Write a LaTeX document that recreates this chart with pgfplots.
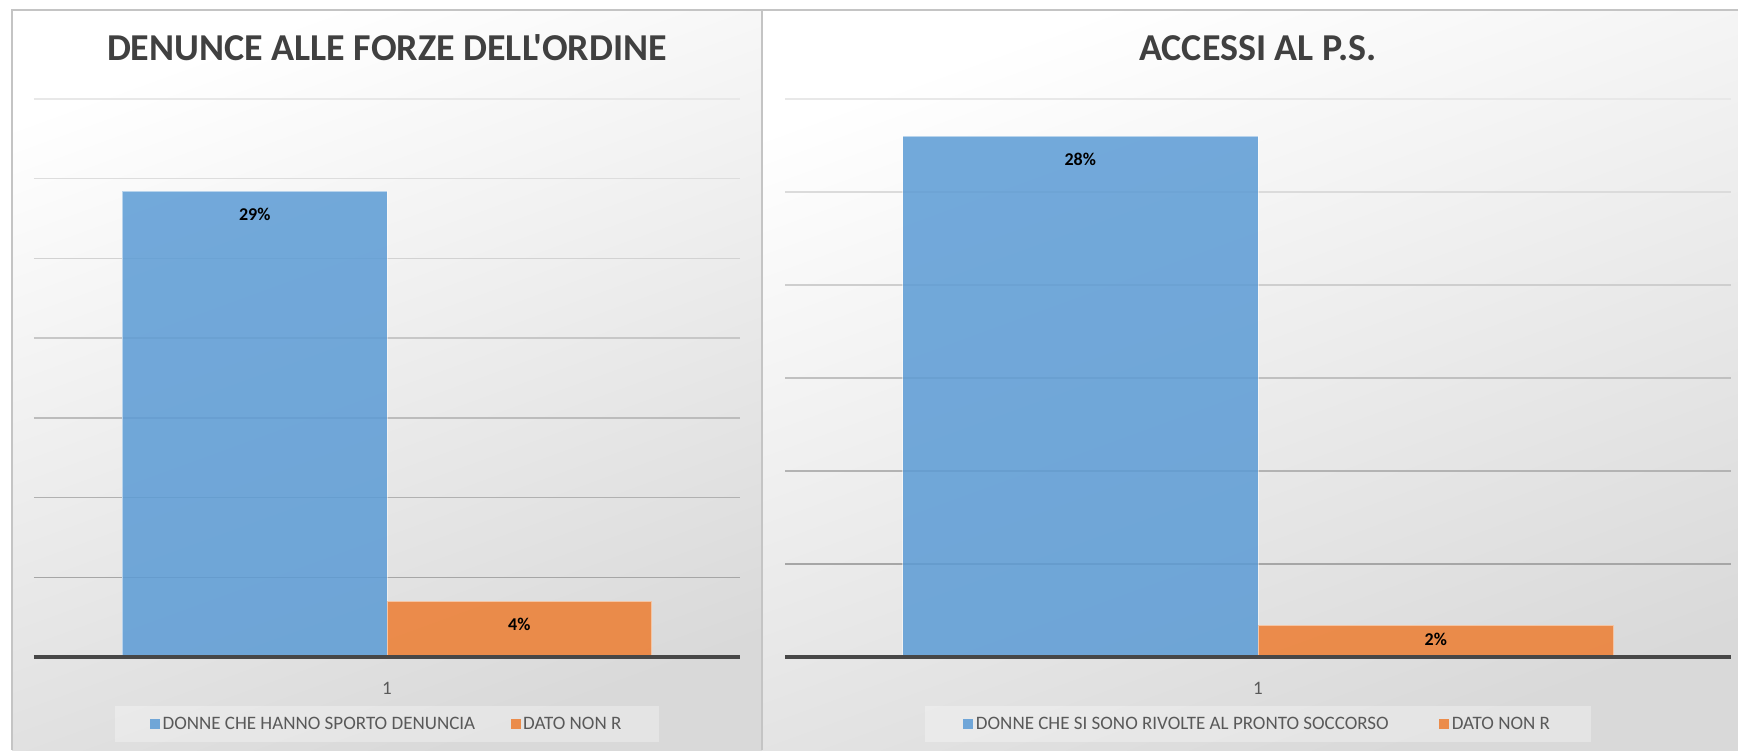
\documentclass[border=0pt]{standalone}
\usepackage{fontspec}
\setmainfont{Carlito}
\newfontfamily\cf{Carlito}
\usepackage{pgfplots}
\pgfplotsset{compat=1.18}
\definecolor{cblue}{HTML}{5B9BD5}
\definecolor{corange}{HTML}{ED7D31}
\definecolor{ctitle}{HTML}{404040}
\definecolor{ctext}{HTML}{595959}
\definecolor{cbg}{HTML}{D9D9D9}
\definecolor{cframe}{HTML}{C4C4C4}
\definecolor{caxis}{HTML}{474747}
\pgfplotsset{
  panel/.style={
    scale only axis, height=558pt, ymin=0, xmin=0.5, xmax=1.5,
    ybar=0pt, axis line style={draw=none}, tick style={draw=none},
    ytick=\empty, xtick={1}, xticklabels={1},
    xticklabel style={font=\cf\fontsize{19}{21}\selectfont, text=ctext, anchor=base, yshift=-33pt},
    clip=false,
    point meta=explicit symbolic,
    nodes near coords,
    every node near coord/.append style={anchor=center, font=\cf\bfseries\fontsize{18}{20}\selectfont, text=black, text opacity=1, yshift=-23pt},
    legend columns=2,
    legend image code/.code={\path[##1, draw=none, fill opacity=0.85] (0pt,-5pt) rectangle (10pt,5pt);},
    legend style={draw=none, fill=white, fill opacity=0.3, text opacity=1,
      font=\cf\fontsize{19}{21}\selectfont, text=ctext,
      nodes={inner sep=2.5pt},
      inner ysep=9pt,
      at={(0.5,-0.1201)}, anchor=center},
    title style={font=\cf\bfseries\fontsize{38}{45}\selectfont, text=ctitle, at={(0.5,1)}, anchor=base, yshift=32pt},
  },
  bblue/.style={fill=cblue, fill opacity=0.85, draw=white, draw opacity=0.5, line width=1pt},
  borange/.style={fill=corange, fill opacity=0.85, draw=white, draw opacity=0.5, line width=1pt},
}
\begin{document}
\begin{tikzpicture}[x=1pt,y=1pt]
\useasboundingbox (0,0) rectangle (1738,750);
\fill[white] (0,0) rectangle (1738,750);
\shade[top color=white, bottom color=cbg, shading angle=20] (12,0) rectangle (762,740);
\shade[top color=white, bottom color=cbg, shading angle=20] (762,0) rectangle (1738,740);
\draw[cframe, line width=1.5pt] (12,0) -- (12,740) -- (1738,740);
\draw[cframe, line width=1.5pt] (762,0) -- (762,740);

% Left panel
\begin{axis}[panel, at={(34pt,93pt)}, anchor=south west, width=706pt, ymax=35,
  bar width=264.6pt,
  title={DENUNCE ALLE FORZE DELL'ORDINE},
  legend style={inner xsep=35pt, /tikz/every even column/.append style={column sep=33pt}}]
\draw[line width=1.5pt, color=black!35] (axis cs:0.5,5) -- (axis cs:1.5,5);
\draw[line width=1.5pt, color=black!30.6] (axis cs:0.5,10) -- (axis cs:1.5,10);
\draw[line width=1.5pt, color=black!26.3] (axis cs:0.5,15) -- (axis cs:1.5,15);
\draw[line width=1.5pt, color=black!22] (axis cs:0.5,20) -- (axis cs:1.5,20);
\draw[line width=1.5pt, color=black!17.6] (axis cs:0.5,25) -- (axis cs:1.5,25);
\draw[line width=1.5pt, color=black!13.3] (axis cs:0.5,30) -- (axis cs:1.5,30);
\draw[line width=1.5pt, color=black!9] (axis cs:0.5,35) -- (axis cs:1.5,35);
\addplot[bblue] coordinates {(1,29.2) [29\%]};
\addplot[borange] coordinates {(1,3.5) [4\%]};
\legend{DONNE CHE HANNO SPORTO DENUNCIA, DATO NON R}
\draw[caxis, line width=3.5pt] (axis cs:0.5,0) -- (axis cs:1.5,0);
\end{axis}

% Right panel
\begin{axis}[panel, at={(785pt,93pt)}, anchor=south west, width=946pt, ymax=30,
  bar width=355.5pt,
  title={ACCESSI AL P.S.},
  legend style={inner xsep=38pt, /tikz/every even column/.append style={column sep=48pt}}]
\draw[line width=1.5pt, color=black!35] (axis cs:0.5,5) -- (axis cs:1.5,5);
\draw[line width=1.5pt, color=black!29.8] (axis cs:0.5,10) -- (axis cs:1.5,10);
\draw[line width=1.5pt, color=black!24.7] (axis cs:0.5,15) -- (axis cs:1.5,15);
\draw[line width=1.5pt, color=black!19.2] (axis cs:0.5,20) -- (axis cs:1.5,20);
\draw[line width=1.5pt, color=black!14.1] (axis cs:0.5,25) -- (axis cs:1.5,25);
\draw[line width=1.5pt, color=black!9] (axis cs:0.5,30) -- (axis cs:1.5,30);
\addplot[bblue] coordinates {(1,28) [28\%]};
\addplot[borange, every node near coord/.append style={yshift=9pt}] coordinates {(1,1.7) [2\%]};
\legend{DONNE CHE SI SONO RIVOLTE AL PRONTO SOCCORSO, DATO NON R}
\draw[caxis, line width=3.5pt] (axis cs:0.5,0) -- (axis cs:1.5,0);
\end{axis}
\end{tikzpicture}
\end{document}
